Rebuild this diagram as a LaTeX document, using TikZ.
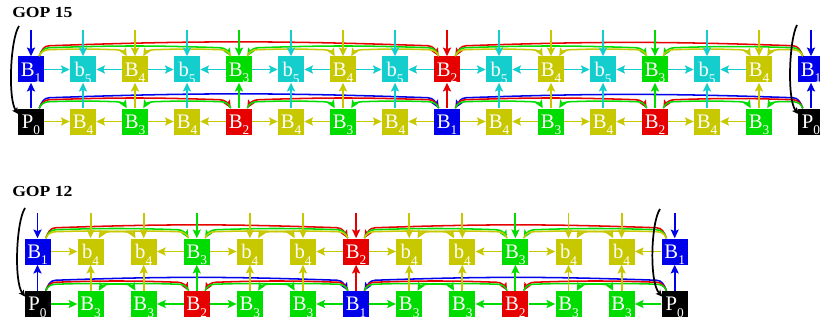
\documentclass[tikz,border=0pt]{standalone}
\usepackage{fontspec}
\setmainfont{Liberation Serif}
\usepackage{graphicx}
\usetikzlibrary{arrows.meta,calc}
\definecolor{cB}{RGB}{0,0,235}
\definecolor{cC}{RGB}{20,206,206}
\definecolor{cO}{RGB}{200,200,0}
\definecolor{cG}{RGB}{0,220,0}
\definecolor{cR}{RGB}{230,0,0}
\newcommand\subx[1]{\raisebox{-5pt}[0pt][0pt]{\fontsize{10}{10}\selectfont #1}}
\newcommand\gArcR[4]{\draw[arcl,#1] ($(#2.north east)+(-5,0)$) to[out=70,in=180] ($(#2.north east)+(5,#4)$) to[bend left=2] ($(#3.north west)+(-6,#4)$) to[out=0,in=120] ($(#3.north west)+(5,0)$);}
\newcommand\gArcL[4]{\draw[arcl,#1] ($(#2.north west)+(5,0)$) to[out=110,in=0] ($(#2.north west)+(-5,#4)$) to[bend right=2] ($(#3.north east)+(6,#4)$) to[out=180,in=60] ($(#3.north east)+(-5,0)$);}
\begin{document}
\begin{tikzpicture}[x=0.75pt,y=0.75pt,
  fr/.style={rectangle, minimum size=19.5pt, inner sep=0pt, text=white, font=\fontsize{15.5}{15.5}\selectfont},
  ar/.style={line width=1.4pt, -{Stealth[length=6.5pt,width=6pt,inset=1.2pt]}},
  arcl/.style={line width=1.15pt, -{Stealth[length=6pt,width=5.5pt,inset=1.2pt]}},
  blk/.style={line width=1.3pt, black, -{Stealth[length=5pt,width=4.5pt,inset=1pt]}},
  lab/.style={anchor=base west, inner sep=0pt, font=\fontsize{11.5}{12}\selectfont\bfseries}]
\useasboundingbox (0,0) rectangle (820,329);
\clip (0,0) rectangle (820,329);
\fill[white] (0,0) rectangle (820,329);

\node[lab] (lab15) at (12,311.7) {\scalebox{1.15}[1]{GOP 15}};
\node[lab] (lab12) at (12,132.3) {\scalebox{1.15}[1]{GOP 12}};

% ---------- GOP 15 nodes ----------
\foreach \i/\c/\l/\s in {0/black/P/0, 1/cO/B/4, 2/cG/B/3, 3/cO/B/4, 4/cR/B/2, 5/cO/B/4, 6/cG/B/3, 7/cO/B/4, 8/cB/B/1, 9/cO/B/4, 10/cG/B/3, 11/cO/B/4, 12/cR/B/2, 13/cO/B/4, 14/cG/B/3, 15/black/P/0}
  \node[fr,fill=\c] (u\i) at ({31+52*\i},207.5) {\l\subx{\s}};
\foreach \i/\c/\l/\s in {0/cB/B/1, 1/cC/b/5, 2/cO/B/4, 3/cC/b/5, 4/cG/B/3, 5/cC/b/5, 6/cO/B/4, 7/cC/b/5, 8/cR/B/2, 9/cC/b/5, 10/cO/B/4, 11/cC/b/5, 12/cG/B/3, 13/cC/b/5, 14/cO/B/4, 15/cB/B/1}
  {\node[fr,fill=\c] (t\i) at ({31+52*\i},259.5) {\l\subx{\s}};
   \coordinate (tt\i) at ({31+52*\i},299);}

% ---------- GOP 12 nodes ----------
\foreach \i/\c/\l/\s in {0/black/P/0, 1/cG/B/3, 2/cG/B/3, 3/cR/B/2, 4/cG/B/3, 5/cG/B/3, 6/cB/B/1, 7/cG/B/3, 8/cG/B/3, 9/cR/B/2, 10/cG/B/3, 11/cG/B/3, 12/black/P/0}
  \node[fr,fill=\c] (d\i) at ({37.5+53.1*\i},25) {\l\subx{\s}};
\foreach \i/\c/\l/\s in {0/cB/B/1, 1/cO/b/4, 2/cO/b/4, 3/cG/B/3, 4/cO/b/4, 5/cO/b/4, 6/cR/B/2, 7/cO/b/4, 8/cO/b/4, 9/cG/B/3, 10/cO/b/4, 11/cO/b/4, 12/cB/B/1}
  {\node[fr,fill=\c] (c\i) at ({37.5+53.1*\i},77.5) {\l\subx{\s}};
   \coordinate (cc\i) at ({37.5+53.1*\i},116);}

% ---------- arcs GOP 15 top ----------
\gArcR{cR}{t0}{t8}{10.5}
\gArcL{cR}{t15}{t8}{10.5}
\gArcR{cG}{t0}{t4}{8.5}
\gArcL{cG}{t8}{t4}{8.5}
\gArcR{cG}{t8}{t12}{8.5}
\gArcL{cG}{t15}{t12}{8.5}
\foreach \a/\b in {0/2,4/6,8/10,12/14} {\gArcR{cO}{t\a}{t\b}{6.5}}
\foreach \a/\b in {4/2,8/6,12/10,15/14} {\gArcL{cO}{t\a}{t\b}{6.5}}
% ---------- arcs GOP 15 bottom ----------
\gArcR{cB}{u0}{u8}{10.5}
\gArcL{cB}{u15}{u8}{10.5}
\gArcR{cR}{u0}{u4}{8.5}
\gArcL{cR}{u8}{u4}{8.5}
\gArcR{cR}{u8}{u12}{8.5}
\gArcL{cR}{u15}{u12}{8.5}
\foreach \a/\b in {0/2,4/6,8/10,12/14} {\gArcR{cG}{u\a}{u\b}{6.5}}
\foreach \a/\b in {4/2,8/6,12/10,15/14} {\gArcL{cG}{u\a}{u\b}{6.5}}
% ---------- arcs GOP 12 top ----------
\gArcR{cR}{c0}{c6}{10.5}
\gArcL{cR}{c12}{c6}{10.5}
\gArcR{cG}{c0}{c3}{8.5}
\gArcL{cG}{c6}{c3}{8.5}
\gArcR{cG}{c6}{c9}{8.5}
\gArcL{cG}{c12}{c9}{8.5}
\foreach \a/\b in {0/2,3/5,6/8,9/11} {\gArcR{cO}{c\a}{c\b}{6.5}}
\foreach \a/\b in {3/1,6/4,9/7,12/10} {\gArcL{cO}{c\a}{c\b}{6.5}}
% ---------- arcs GOP 12 bottom ----------
\gArcR{cB}{d0}{d6}{10.5}
\gArcL{cB}{d12}{d6}{10.5}
\gArcR{cR}{d0}{d3}{8.5}
\gArcL{cR}{d6}{d3}{8.5}
\gArcR{cR}{d6}{d9}{8.5}
\gArcL{cR}{d12}{d9}{8.5}
\foreach \a/\b in {0/2,3/5,6/8,9/11} {\gArcR{cG}{d\a}{d\b}{6.5}}
\foreach \a/\b in {3/1,6/4,9/7,12/10} {\gArcL{cG}{d\a}{d\b}{6.5}}

% ---------- horizontal arrows ----------
\foreach \a/\b in {0/1,2/1,2/3,4/3,4/5,6/5,6/7,8/7,8/9,10/9,10/11,12/11,12/13,14/13}
  {\draw[ar,cC] (t\a) -- (t\b);
   \draw[ar,cO] (u\a) -- (u\b);}
\foreach \a/\b in {0/1,3/2,3/4,6/5,6/7,9/8,9/10,12/11}
  {\draw[ar,cO] (c\a) -- (c\b);
   \draw[ar,cG] (d\a) -- (d\b);}

% ---------- vertical arrows ----------
\foreach \i/\c in {0/cB,1/cC,2/cO,3/cC,4/cG,5/cC,6/cO,7/cC,8/cR,9/cC,10/cO,11/cC,12/cG,13/cC,14/cO,15/cB}
  {\draw[ar,\c] (u\i) -- (t\i);
   \draw[ar,\c] (tt\i) -- (t\i);}
\foreach \i/\c in {0/cB,1/cO,2/cO,3/cG,4/cO,5/cO,6/cR,7/cO,8/cO,9/cG,10/cO,11/cO,12/cB}
  {\draw[ar,\c] (d\i) -- (c\i);
   \draw[ar,\c] (cc\i) -- (c\i);}

% ---------- black curved arrows ----------
\coordinate (k1) at (19,303);
\coordinate (k2) at (797,304);
\coordinate (k3) at (25,121);
\coordinate (k4) at (660,120);
\draw[blk] (k1) .. controls (10,289) and (8,229) .. ($(u0.north west)+(1,-6)$);
\draw[blk] (k2) .. controls (789,289) and (787,229) .. ($(u15.north west)+(1,-6)$);
\draw[blk] (k3) .. controls (16,107) and (14,47) .. ($(d0.north west)+(1,-6)$);
\draw[blk] (k4) .. controls (651,107) and (649,47) .. ($(d12.north west)+(1,-6)$);
\end{tikzpicture}
\end{document}
